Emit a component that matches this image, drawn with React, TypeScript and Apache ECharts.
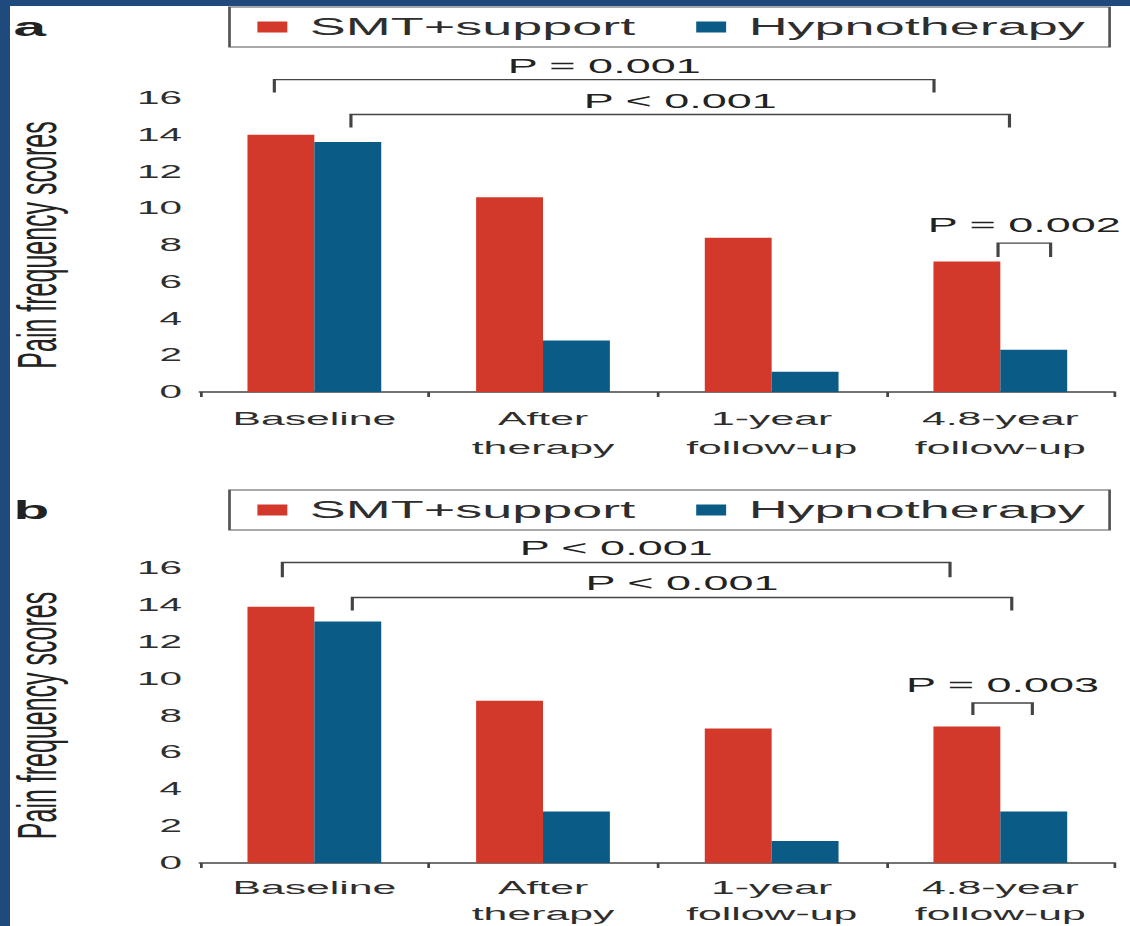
import React, { useEffect, useRef } from "react";
import * as echarts from "echarts";

// ---- data ----
const categories = ["Baseline", "After\ntherapy", "1-year\nfollow-up", "4.8-year\nfollow-up"];
const seriesNames = ["SMT+support", "Hypnotherapy"];
const smtA = [14.0, 10.6, 8.4, 7.1];
const hypA = [13.6, 2.8, 1.1, 2.3];
const smtB = [13.9, 8.8, 7.3, 7.4];
const hypB = [13.1, 2.8, 1.2, 2.8];
const yMin = 0;
const yMax = 16;
const yInterval = 2;
const panelLabels = ["a", "b"];
const yAxisTitle = "Pain frequency scores";

// significance brackets (category index + fraction of band, values in data units)
const bracketsA = [
  { from: [0, -0.175], to: [3, -0.29], line: 17.0, tick: 16.3, text: "P = 0.001", textAt: 17.75 },
  { from: [0, 0.16], to: [3, 0.04], line: 15.1, tick: 14.4, text: "P < 0.001", textAt: 15.85 },
  { from: [3, -0.01], to: [3, 0.22], line: 8.1, tick: 7.35, text: "P = 0.002", textAt: 9.1 },
];
const bracketsB = [
  { from: [0, -0.14], to: [3, -0.22], line: 16.3, tick: 15.5, text: "P < 0.001", textAt: 17.1 },
  { from: [0, 0.166], to: [3, 0.05], line: 14.4, tick: 13.7, text: "P < 0.001", textAt: 15.2 },
  { from: [3, -0.12], to: [3, 0.14], line: 8.68, tick: 8.03, text: "P = 0.003", textAt: 9.65 },
];

// ---- style ----
const SCALE = 2.25;
const W = 502;
const H = 926;
const RED = "#d3392b";
const BLUE = "#0b5b87";
const TXT = "#2e2e2e";
const FRAME = "#1f4a7e";
const FONT = "'Liberation Sans', Arial, Helvetica, sans-serif";

function legendFor(top: number) {
  return {
    data: seriesNames,
    left: 102,
    top,
    orient: "horizontal",
    icon: "rect",
    itemWidth: 13.3,
    itemHeight: 11,
    itemGap: 27,
    borderColor: "#555",
    borderWidth: 1.2,
    padding: [8, 11, 8, 12.4],
    selectedMode: false,
    textStyle: { fontSize: 24, color: TXT, fontFamily: FONT, lineHeight: 24, padding: [0, 0, 0, 5] },
  };
}

function xAxisFor(idx: number, margin: number, lineHeight: number) {
  return {
    type: "category",
    gridIndex: idx,
    data: categories,
    axisLine: { lineStyle: { color: "#444", width: 1.5 } },
    axisTick: { show: true, length: 5, lineStyle: { color: "#444", width: 1.2 } },
    axisLabel: { fontSize: 19, lineHeight, color: TXT, margin, interval: 0, fontFamily: FONT },
  };
}

function yAxisFor(idx: number) {
  return {
    type: "value",
    gridIndex: idx,
    min: yMin,
    max: yMax,
    interval: yInterval,
    axisLine: { show: false },
    axisTick: { show: false },
    splitLine: { show: false },
    axisLabel: { fontSize: 18, color: TXT, margin: 8, fontFamily: FONT },
    name: yAxisTitle,
    nameLocation: "middle",
    nameGap: 60,
    nameTextStyle: { fontSize: 25, color: "#222", fontFamily: FONT },
  };
}

function barSeries(name: string, data: number[], idx: number, color: string) {
  return {
    type: "bar",
    name,
    data,
    xAxisIndex: idx,
    yAxisIndex: idx,
    barGap: "0%",
    barCategoryGap: "41.5%",
    itemStyle: { color },
  };
}

const option: any = {
  animation: false,
  backgroundColor: "#fff",
  textStyle: { fontFamily: FONT },
  title: [
    { text: panelLabels[0], left: 6, top: 14, padding: 0, textStyle: { fontSize: 26, fontWeight: "bold", color: "#222", fontFamily: FONT } },
    { text: panelLabels[1], left: 6, top: 497, padding: 0, textStyle: { fontSize: 26, fontWeight: "bold", color: "#222", fontFamily: FONT } },
  ],
  legend: [legendFor(7), legendFor(490)],
  grid: [
    { left: 88.9, right: 6.6, top: 98, height: 294, containLabel: false, outerBoundsMode: "none" },
    { left: 88.9, right: 6.6, top: 568, height: 295, containLabel: false, outerBoundsMode: "none" },
  ],
  xAxis: [xAxisFor(0, 12, 29), xAxisFor(1, 11, 26)],
  yAxis: [yAxisFor(0), yAxisFor(1)],
  series: [
    barSeries(seriesNames[0], smtA, 0, RED),
    barSeries(seriesNames[1], hypA, 0, BLUE),
    barSeries(seriesNames[0], smtB, 1, RED),
    barSeries(seriesNames[1], hypB, 1, BLUE),
  ],
};

function buildGraphics(chart: any) {
  const out: any[] = [];
  [bracketsA, bracketsB].forEach((list, p) => {
    const c0 = chart.convertToPixel({ xAxisIndex: p }, 0);
    const c1 = chart.convertToPixel({ xAxisIndex: p }, 1);
    const band = c1 - c0;
    list.forEach((b) => {
      const x1 = chart.convertToPixel({ xAxisIndex: p }, b.from[0]) + band * b.from[1];
      const x2 = chart.convertToPixel({ xAxisIndex: p }, b.to[0]) + band * b.to[1];
      const yl = chart.convertToPixel({ yAxisIndex: p }, b.line);
      const yt = chart.convertToPixel({ yAxisIndex: p }, b.tick);
      const ytx = chart.convertToPixel({ yAxisIndex: p }, b.textAt);
      out.push({
        type: "polyline",
        silent: true,
        shape: { points: [[x1, yt], [x1, yl], [x2, yl], [x2, yt]] },
        style: { stroke: "#444", lineWidth: 1.4, fill: null },
      });
      out.push({
        type: "text",
        silent: true,
        x: (x1 + x2) / 2,
        y: ytx,
        style: {
          text: b.text,
          fontSize: 20,
          fontFamily: FONT,
          fill: "#222",
          align: "center",
          verticalAlign: "middle",
          textAlign: "center",
          textVerticalAlign: "middle",
        },
      });
    });
  });
  return out;
}

export default function App() {
  const ref = useRef<HTMLDivElement>(null);
  useEffect(() => {
    const chart = echarts.init(ref.current as HTMLDivElement, null, { renderer: "svg" });
    chart.setOption(option);
    chart.setOption({ graphic: buildGraphics(chart) });
    return () => chart.dispose();
  }, []);
  return (
    <div style={{ position: "fixed", left: 0, top: 0, width: 1130, height: 926, background: "#fff", overflow: "hidden" }}>
      <div
        ref={ref}
        style={{ position: "absolute", left: 0, top: 0, width: W, height: H, transform: `scaleX(${SCALE})`, transformOrigin: "0 0" }}
      />
      <div style={{ position: "absolute", left: 0, top: 0, width: 1130, height: 6, background: FRAME }} />
      <div style={{ position: "absolute", left: 0, top: 0, width: 10, height: 926, background: FRAME }} />
    </div>
  );
}
